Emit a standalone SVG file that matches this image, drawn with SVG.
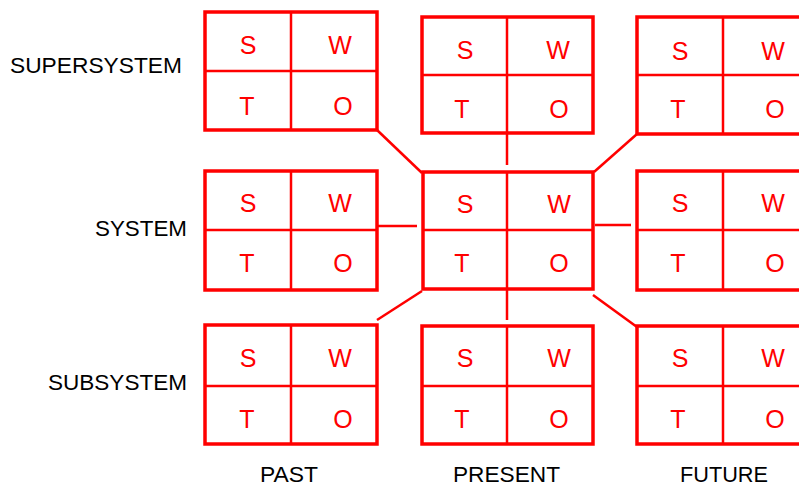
<svg xmlns="http://www.w3.org/2000/svg" width="799" height="487" viewBox="0 0 799 487">
<style>
.box{fill:#fff;stroke:#ff0000;stroke-width:3.5}
.div{stroke:#ff0000;stroke-width:2.5;fill:none}
.l{fill:#ff0000;font-family:"Liberation Sans",Arial,sans-serif;font-size:25px;text-anchor:middle}
.lab{fill:#000;font-family:"Liberation Sans",Arial,sans-serif;font-size:22px}
.con{stroke:#ff0000;stroke-width:2.5;fill:none}
</style>
<rect width="799" height="487" fill="#fff"/>
<g id="connectors">
<line class="con" x1="377" y1="130" x2="422" y2="173"/>
<line class="con" x1="507" y1="133" x2="507" y2="165"/>
<line class="con" x1="637" y1="134" x2="594" y2="172"/>
<line class="con" x1="378" y1="226" x2="417" y2="226"/>
<line class="con" x1="595" y1="225" x2="631" y2="225"/>
<line class="con" x1="422" y1="291" x2="377" y2="320"/>
<line class="con" x1="507" y1="289" x2="507" y2="320"/>
<line class="con" x1="593" y1="295" x2="637" y2="327"/>
</g>
<g id="past-supersystem">
<rect class="box" x="205" y="12" width="172" height="118"/>
<line class="div" x1="291" y1="12" x2="291" y2="130"/><line class="div" x1="205" y1="71" x2="377" y2="71"/>
<text class="l" x="248" y="54">S</text><text class="l" x="340" y="54">W</text><text class="l" x="247" y="115">T</text><text class="l" x="343" y="115">O</text>
</g>
<g id="present-supersystem">
<rect class="box" x="422" y="17" width="171" height="116"/>
<line class="div" x1="507" y1="17" x2="507" y2="133"/><line class="div" x1="422" y1="75" x2="593" y2="75"/>
<text class="l" x="465" y="59">S</text><text class="l" x="558" y="59">W</text><text class="l" x="462" y="118">T</text><text class="l" x="559" y="118">O</text>
</g>
<g id="future-supersystem">
<rect class="box" x="637" y="17" width="172" height="117"/>
<line class="div" x1="723" y1="17" x2="723" y2="134"/><line class="div" x1="637" y1="75" x2="809" y2="75"/>
<text class="l" x="680" y="60">S</text><text class="l" x="773" y="60">W</text><text class="l" x="678" y="118">T</text><text class="l" x="775" y="118">O</text>
</g>
<g id="past-system">
<rect class="box" x="205" y="171" width="172" height="119"/>
<line class="div" x1="291" y1="171" x2="291" y2="290"/><line class="div" x1="205" y1="230" x2="377" y2="230"/>
<text class="l" x="248" y="212">S</text><text class="l" x="340" y="212">W</text><text class="l" x="247" y="272">T</text><text class="l" x="343" y="272">O</text>
</g>
<g id="present-system">
<rect class="box" x="423" y="172" width="170" height="117"/>
<line class="div" x1="507" y1="172" x2="507" y2="289"/><line class="div" x1="423" y1="230" x2="593" y2="230"/>
<text class="l" x="465" y="213">S</text><text class="l" x="559" y="213">W</text><text class="l" x="462" y="272">T</text><text class="l" x="559" y="272">O</text>
</g>
<g id="future-system">
<rect class="box" x="637" y="171" width="172" height="119"/>
<line class="div" x1="723" y1="171" x2="723" y2="290"/><line class="div" x1="637" y1="230" x2="809" y2="230"/>
<text class="l" x="680" y="212">S</text><text class="l" x="773" y="212">W</text><text class="l" x="678" y="272">T</text><text class="l" x="775" y="272">O</text>
</g>
<g id="past-subsystem">
<rect class="box" x="205" y="325" width="172" height="119"/>
<line class="div" x1="291" y1="325" x2="291" y2="444"/><line class="div" x1="205" y1="386" x2="377" y2="386"/>
<text class="l" x="248" y="367">S</text><text class="l" x="340" y="367">W</text><text class="l" x="247" y="428">T</text><text class="l" x="343" y="428">O</text>
</g>
<g id="present-subsystem">
<rect class="box" x="422" y="326" width="171" height="118"/>
<line class="div" x1="507" y1="326" x2="507" y2="444"/><line class="div" x1="422" y1="386" x2="593" y2="386"/>
<text class="l" x="465" y="367">S</text><text class="l" x="559" y="367">W</text><text class="l" x="462" y="428">T</text><text class="l" x="559" y="428">O</text>
</g>
<g id="future-subsystem">
<rect class="box" x="637" y="326" width="172" height="118"/>
<line class="div" x1="723" y1="326" x2="723" y2="444"/><line class="div" x1="637" y1="386" x2="809" y2="386"/>
<text class="l" x="680" y="367">S</text><text class="l" x="773" y="367">W</text><text class="l" x="678" y="428">T</text><text class="l" x="775" y="428">O</text>
</g>
<g id="labels">
<text class="lab" x="10" y="73" textLength="172" lengthAdjust="spacingAndGlyphs">SUPERSYSTEM</text>
<text class="lab" x="95" y="236" textLength="92" lengthAdjust="spacingAndGlyphs">SYSTEM</text>
<text class="lab" x="48" y="390" textLength="139" lengthAdjust="spacingAndGlyphs">SUBSYSTEM</text>
<text class="lab" x="260" y="482" textLength="58" lengthAdjust="spacingAndGlyphs">PAST</text>
<text class="lab" x="453" y="482" textLength="107" lengthAdjust="spacingAndGlyphs">PRESENT</text>
<text class="lab" x="680" y="482" textLength="88" lengthAdjust="spacingAndGlyphs">FUTURE</text>
</g>
</svg>
